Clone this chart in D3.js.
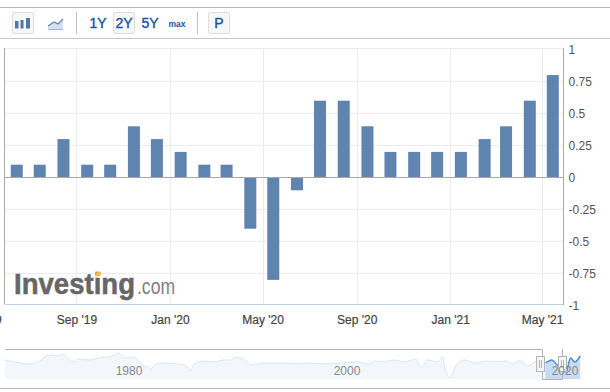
<!DOCTYPE html>
<html><head><meta charset="utf-8">
<script src="https://cdn.jsdelivr.net/npm/d3@7/dist/d3.min.js"></script>
<style>
html,body{margin:0;padding:0;background:#fff;overflow:hidden}
svg{display:block}
text{font-family:"Liberation Sans",Arial,sans-serif}
</style></head><body>
<svg id="c" width="610" height="392"></svg>
<script>
const months = ["2019-06","2019-07","2019-08","2019-09","2019-10","2019-11","2019-12","2020-01","2020-02","2020-03","2020-04","2020-05","2020-06","2020-07","2020-08","2020-09","2020-10","2020-11","2020-12","2021-01","2021-02","2021-03","2021-04","2021-05"];
const values = [0.1,0.1,0.3,0.1,0.1,0.4,0.3,0.2,0.1,0.1,-0.4,-0.8,-0.1,0.6,0.6,0.4,0.2,0.2,0.2,0.2,0.3,0.4,0.6,0.8];
const yTicks = [-1,-0.75,-0.5,-0.25,0,0.25,0.5,0.75,1];
const xTickDates = ["2019-05-01","2019-09-01","2020-01-01","2020-05-01","2020-09-01","2021-01-01","2021-05-01"];
const rangeLabels = ["1Y","2Y","5Y"];
const navYearLabels = [1980,2000,2020];
const navYears = [1968.6,1969.5,1971,1971.8,1972.4,1973,1973.4,1974,1974.4,1974.8,1975.4,1976.3,1977.2,1978.6,1979,1979.3,1979.7,1980.4,1980.9,1981.3,1981.8,1982,1982.3,1983,1984.5,1985.4,1985.6,1985.9,1986.8,1987.8,1988.7,1989.3,1989.8,1990.6,1991.2,1992.5,1994,1995.5,1996.5,1998,1999.5,2001,2002,2002.6,2003.4,2004.3,2005.3,2006.3,2006.8,2007.4,2008.3,2008.8,2009,2009.5,2010,2010.8,2011.8,2012.8,2013.5,2014.5,2015.3,2015.9,2016.5,2017.5,2018.2];
const navValues = [0.5,0.3,0.1,0.4,0.9,1.0,0.9,1.1,0.7,0.3,0.6,0.5,0.7,0.9,1.2,1.0,0.7,0.8,0.4,-0.1,-0.2,-0.5,0,0.2,0.1,-0.2,-0.6,0,0.4,0.3,0.5,0.5,0.8,0.5,0,0.2,0.2,0.1,0.2,0.1,0.2,0.3,0.1,0.4,0.3,0.5,0.3,0.6,-0.3,0.5,0.3,0.8,-0.4,-1.3,0,0.5,0.2,0.4,0.3,0.4,0.1,0.5,-0.1,0.4,0.2];
const navSelectedYears = [2018.2,2018.8,2019.2,2019.7,2020.1,2020.5,2020.9,2021.4];
const navSelectedValues = [0.2,0.5,0.1,-0.4,-0.7,0.7,0.3,0.9];

const svg = d3.select("#c");
const parseM = d3.timeParse("%Y-%m-%d");
const barData = months.map((m,i)=>({date:parseM(m+"-15"),value:values[i]}));

const x = d3.scaleTime().domain([parseM("2019-05-30"),parseM("2021-05-29")]).range([4.5,563.5]);
const y = d3.scaleLinear().domain([-1,1]).range([305.5,49.5]);

// page chrome
[7.5,38.5,388.5].forEach(v=>svg.append("line").attr("x1",0).attr("x2",610).attr("y1",v).attr("y2",v).attr("stroke",v===38.5?"#c8c8c8":"#b8b8b8"));

function btn(x0){svg.append("rect").attr("x",x0+.5).attr("y",12.5).attr("width",21).attr("height",21).attr("rx",2)
  .attr("fill","#f7f7f7").attr("stroke","#dcdcdc");}
btn(12);btn(113);btn(208);
[76.5,197.5].forEach(v=>svg.append("line").attr("x1",v).attr("x2",v).attr("y1",12).attr("y2",34).attr("stroke","#c0c0c0"));
// bars icon
[[15,21,3.5],[20.5,20,3],[26,18,4]].forEach(r=>svg.append("rect").attr("x",r[0]).attr("y",r[1]).attr("width",r[2]).attr("height",28.5-r[1]).attr("fill","#4f78a8"));
// line icon
svg.append("path").attr("d","M48 26 L54 22 L58 24 L63 19 L63 30 L48 30 Z").attr("fill","#d5dff0");
svg.append("path").attr("d","M48 26 L54 22 L58 24 L63 19").attr("fill","none").attr("stroke","#5b83b5").attr("stroke-width",1.2);
svg.append("line").attr("x1",48).attr("x2",63).attr("y1",29.5).attr("y2",29.5).attr("stroke","#a9b6cc");
const btnCol="#17579f";
rangeLabels.forEach((t,i)=>svg.append("text").attr("x",[98,124,150][i]).attr("y",28).attr("text-anchor","middle")
  .attr("font-size",14).attr("fill",btnCol).attr("stroke",btnCol).attr("stroke-width",.4).text(t));
svg.append("text").attr("x",177).attr("y",26.5).attr("text-anchor","middle").attr("font-size",8.5).attr("font-weight","bold").attr("fill",btnCol).text("max");
svg.append("text").attr("x",219).attr("y",28).attr("text-anchor","middle").attr("font-size",14).attr("fill",btnCol).attr("stroke",btnCol).attr("stroke-width",.4).text("P");

// grid
const gy = svg.append("g").attr("class","grid-y");
gy.selectAll("line").data(yTicks.filter(d=>d!==0&&d!==-1)).join("line")
  .attr("x1",x.range()[0]).attr("x2",x.range()[1]).attr("y1",d=>Math.floor(y(d))-(d===1?1:0)+.5).attr("y2",d=>Math.floor(y(d))-(d===1?1:0)+.5).attr("stroke","#ececec");
const xTicks = xTickDates.map(parseM);
const gx = svg.append("g").attr("class","grid-x");
gx.selectAll("line").data(xTicks.slice(1)).join("line")
  .attr("x1",d=>Math.round(x(d))+.5).attr("x2",d=>Math.round(x(d))+.5).attr("y1",48).attr("y2",304).attr("stroke","#ececec");

// frame
svg.append("line").attr("x1",4.5).attr("x2",4.5).attr("y1",48).attr("y2",304).attr("stroke","#a8a8a8");
svg.append("line").attr("x1",4.5).attr("x2",563.5).attr("y1",304.5).attr("y2",304.5).attr("stroke","#c0d0e0");

// logo (under bars)
const logo = svg.append("g");
logo.append("text").attr("x",14).attr("y",293.5).attr("font-size",29).attr("font-weight","bold").attr("fill","#666").attr("stroke","#666").attr("stroke-width",.5).attr("textLength",121).attr("lengthAdjust","spacingAndGlyphs").text("Investing");
logo.append("text").attr("x",137).attr("y",293.5).attr("font-size",22).attr("fill","#808080").attr("textLength",38).attr("lengthAdjust","spacingAndGlyphs").text(".com");
logo.append("path").attr("d","M96 272.5 L101 271.5 L100.5 276 L95 276.5 Z").attr("fill","#f6b950");

// bars
const barW = 12;
svg.append("g").selectAll("rect").data(barData).join("rect")
  .attr("x",d=>x(d.date)-barW/2).attr("width",barW)
  .attr("y",d=>Math.min(y(d.value),y(0))).attr("height",d=>Math.abs(y(d.value)-y(0)))
  .attr("fill","#5f84b0");

// zero line & right axis
svg.append("line").attr("x1",4.5).attr("x2",563.5).attr("y1",177.5).attr("y2",177.5).attr("stroke","#a8a8a8");
const fmtY = d=>d3.format("")(d).replace("−","-");
const ay = svg.append("g").attr("transform","translate(563.5,0)")
  .call(d3.axisRight(y).tickValues(yTicks).tickSize(0).tickPadding(5).tickFormat(fmtY));
ay.select(".domain").remove();
svg.append("line").attr("x1",563.5).attr("x2",563.5).attr("y1",48).attr("y2",305).attr("stroke","#a8a8a8");
ay.selectAll("text").attr("font-size",12).attr("fill","#555").attr("font-family",'"Liberation Sans",Arial,sans-serif');

// x axis
const fmtX = d3.timeFormat("%b '%y");
const ax = svg.append("g").attr("transform","translate(0,304.5)")
  .call(d3.axisBottom(x).tickValues(xTicks).tickSize(0).tickPadding(11).tickFormat(fmtX));
ax.select(".domain").remove();
ax.selectAll("text").attr("font-size",12).attr("fill","#444").attr("stroke","#444").attr("stroke-width",.2).attr("font-family",'"Liberation Sans",Arial,sans-serif');
ax.selectAll("text").filter((d,i)=>i===0).attr("dx",-2);

// navigator
const nx = d3.scaleLinear().domain([1980,2000]).range([129,347]);
const ny = d3.scaleLinear().domain([-1.4,1.6]).range([379,349]);
const navPts = navYears.map((t,i)=>[t,navValues[i]]);
const selPts = navSelectedYears.map((t,i)=>[t,navSelectedValues[i]]);
const area = d3.area().x(d=>nx(d[0])).y0(379).y1(d=>ny(d[1])).curve(d3.curveMonotoneX);
const ln = d3.line().x(d=>nx(d[0])).y(d=>ny(d[1])).curve(d3.curveMonotoneX);
svg.append("path").attr("d",area(navPts)).attr("fill","#f3f7fc");
svg.append("path").attr("d",ln(navPts)).attr("fill","none").attr("stroke","#d9e6f4");
svg.append("path").attr("d",area(selPts)).attr("fill","#c6dcf4");
svg.append("path").attr("d",ln(selPts)).attr("fill","none").attr("stroke","#4a8fd0").attr("stroke-width",1.5);
svg.append("path").attr("d","M5 349.5 H542.5 V379.5 H562.5 V349").attr("fill","none").attr("stroke","#b4b4b4");
[536.5,558.5].forEach(h=>{
  svg.append("rect").attr("x",h).attr("y",356.5).attr("width",8).attr("height",15).attr("fill","#f4f4f4").attr("stroke","#b4b4b4");
  [h+3,h+5].forEach(v=>svg.append("line").attr("x1",v).attr("x2",v).attr("y1",360).attr("y2",368).attr("stroke","#b4b4b4"));
});
svg.append("g").selectAll("text").data(navYearLabels).join("text")
  .attr("x",d=>nx(d)).attr("y",375).attr("text-anchor","middle").attr("font-size",12).attr("fill","#888").text(d=>d);
</script></body></html>
